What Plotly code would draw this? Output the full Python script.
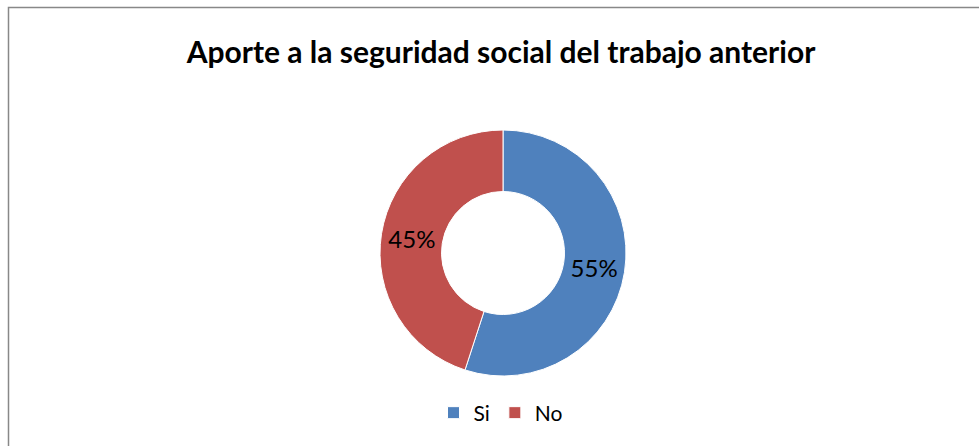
import plotly.graph_objects as go

categories = ["Si", "No"]
values = [55, 45]
colors = ["#4F81BD", "#C0504D"]
title_text = "Aporte a la seguridad social del trabajo anterior"

W, H = 979, 446
cx, cy, r = 503, 253, 123

fig = go.Figure(go.Pie(
    labels=categories,
    values=values,
    hole=0.5,
    sort=False,
    direction="clockwise",
    rotation=0,
    marker=dict(colors=colors, line=dict(color="white", width=1)),
    textinfo="percent",
    textposition="inside",
    insidetextorientation="horizontal",
    textfont=dict(family="Lato", size=24, color="black"),
    domain=dict(x=[(cx - r) / W, (cx + r) / W], y=[(H - cy - r) / H, (H - cy + r) / H]),
))

fig.update_layout(
    width=W, height=H,
    margin=dict(l=0, r=0, t=0, b=0),
    paper_bgcolor="white",
    title=dict(text="<b>" + title_text + "</b>", x=501 / W, xanchor="center",
               y=1 - 52 / H, yanchor="middle",
               font=dict(family="Lato", size=30, color="black")),
    showlegend=True,
    legend=dict(orientation="h", x=501 / W, xanchor="center", y=1 - 413 / H, yanchor="middle",
                font=dict(family="Lato", size=21, color="black"), itemwidth=30),
    shapes=[dict(type="rect", xref="paper", yref="paper",
                 x0=8.5 / W, x1=1.02, y0=-0.02, y1=1 - 7.5 / H,
                 line=dict(color="#888888", width=1.5), fillcolor="rgba(0,0,0,0)")],
)

fig.write_html("out.html")
